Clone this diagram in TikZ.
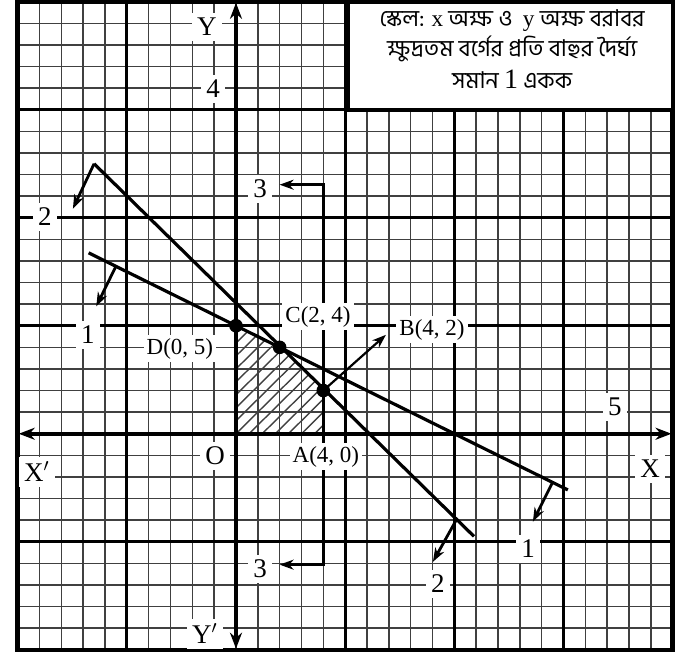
\documentclass[tikz,border=0pt]{standalone}
\usepackage{fontspec}
\setmainfont{Liberation Serif}
\newfontfamily\bn[Script=Bengali]{Hind Siliguri}
\usetikzlibrary{arrows.meta}
\begin{document}
\begin{tikzpicture}[x=10.915pt,y=10.8pt,
 minor/.style={black!75, line width=0.75pt},
 major/.style={black, line width=1.5pt},
 frame/.style={black, line width=2.2pt},
 axis/.style={black, line width=2pt, {Stealth[length=8pt,width=6pt]}-{Stealth[length=8pt,width=6pt]}},
 cline/.style={black, line width=1.6pt},
 carrow/.style={black, line width=1.4pt, -{Stealth[length=7pt,width=5pt]}},
 lbl/.style={fill=white, inner sep=2.5pt, font=\fontsize{13.5}{14}\selectfont},
 plbl/.style={fill=white, inner sep=1.5pt, font=\fontsize{11.5}{12}\selectfont},
 dot/.style={circle, fill=black, inner sep=0pt, minimum size=6.8pt},
 hatch/.style={black!75, line width=0.7pt},
 bnline/.style={font=\bn\fontsize{11.6}{13}\selectfont, inner sep=0pt}]
\useasboundingbox (-10.81,-10.23) rectangle (20.385,20.08);
% grid
\foreach \i in {-10,...,20} {
  \draw[minor] (\i,-10) -- (\i,20);
  \draw[minor] (-10,\i) -- (20,\i);
}
\foreach \i in {-5,5,10,15} {
  \draw[major] (\i,-10) -- (\i,20);
  \draw[major] (-10,\i) -- (20,\i);
}
\draw[frame] (-10,-10) rectangle (20,20);
% points
\coordinate (O) at (0,0);
\coordinate (A) at (4,0);
\coordinate (B) at (4,2);
\coordinate (C) at (2,4);
\coordinate (D) at (0,5);
% hatching
\begin{scope}
\clip (O) -- (A) -- (B) -- (C) -- (D) -- cycle;
\foreach \k in {-6,-5.4,...,4.2} \draw[hatch] (\k,0) -- ++(7,7);
\end{scope}
% scale box
\draw[black, line width=2pt, fill=white] (5.13,15) rectangle (20,20);
\node[bnline] (s1) at (12.65,19.15) {স্কেল: {\rmfamily x} অক্ষ ও \ {\rmfamily y} অক্ষ বরাবর};
\node[bnline] (s2) at (12.65,17.8) {ক্ষুদ্রতম বর্গের প্রতি বাহুর দৈর্ঘ্য};
\node[bnline] (s3) at (12.65,16.4) {সমান {\rmfamily\fontsize{14}{14}\selectfont 1} একক};
% axes
\coordinate (Xl) at (-9.95,0);
\coordinate (Xr) at (19.95,0);
\coordinate (Yb) at (0,-9.95);
\coordinate (Yt) at (0,19.95);
% constraint lines
\coordinate (L1a) at (-6.75,8.375);
\coordinate (L1b) at (15.2,-2.6);
\coordinate (L1s) at (-5.5,7.75);
\coordinate (L1e) at (-6.4,5.9);
\coordinate (L1t) at (14.5,-2.25);
\coordinate (L1u) at (13.6,-4.07);
\coordinate (L2a) at (-6.5,12.5);
\coordinate (L2b) at (10.9,-4.75);
\coordinate (L2e) at (-7.47,10.42);
\coordinate (L2s) at (10.12,-3.94);
\coordinate (L2u) at (9.02,-5.93);
\coordinate (L3t) at (4,11.53);
\coordinate (L3b) at (4,-6.06);
\coordinate (L3tt) at (2,11.53);
\coordinate (L3bt) at (2,-6.06);
\coordinate (Bt) at (6.87,4.58);
\draw[cline] (L1a) -- (L1b);
\draw[carrow] (L1s) -- (L1e);
\draw[carrow] (L1t) -- (L1u);
\draw[cline] (L2a) -- (L2b);
\draw[carrow] (L2a) -- (L2e);
\draw[carrow] (L2s) -- (L2u);
\draw[carrow, line width=1.6pt] (L3b) -- (L3t) -- (L3tt);
\draw[carrow, line width=1.6pt] (L3t) -- (L3b) -- (L3bt);
\draw[carrow, line width=1.1pt] (B) -- (Bt);
% labels
\node[lbl] (lY) at (-1.33,18.84) {Y};
\node[lbl] (l4) at (-1.05,15.97) {4};
\node[lbl] (l3t) at (1.10,11.34) {3};
\node[lbl] (l2l) at (-8.75,10.05) {2};
\node[lbl] (l1l) at (-6.78,4.58) {1};
\node[plbl] (lD) at (-2.57,3.94) {D(0, 5)};
\node[plbl] (lC) at (3.76,5.42) {C(2, 4)};
\node[plbl] (lB) at (8.98,4.81) {B(4, 2)};
\node[lbl] (l5) at (17.36,1.25) {5};
\node[lbl] (lO) at (-0.96,-1.02) {O};
\node[plbl] (lA) at (4.12,-1.06) {A(4, 0)};
\node[lbl] (lXp) at (-9.12,-1.76) {X$'$};
\node[lbl] (lX) at (18.97,-1.62) {X};
\node[lbl] (l1r) at (13.38,-5.32) {1};
\node[lbl] (l3b) at (1.10,-6.25) {3};
\node[lbl] (l2b) at (9.25,-6.94) {2};
\node[lbl] (lYp) at (-1.42,-9.26) {Y$'$};
% axes on top
\draw[axis] (Xl) -- (Xr);
\draw[axis] (Yb) -- (Yt);
% dots
\node[dot] (dD) at (D) {};
\node[dot] (dC) at (C) {};
\node[dot] (dB) at (B) {};
\end{tikzpicture}
\end{document}
